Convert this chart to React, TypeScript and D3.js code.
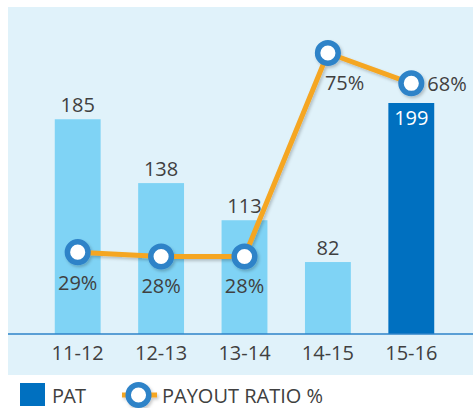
import React from "react";
import * as d3 from "d3";

const categories = ["11-12", "12-13", "13-14", "14-15", "15-16"];
const patLabels = ["185", "138", "113", "82", "199"];
// bar heights as drawn in the reference (units of PAT)
const patValues = [185, 130, 98, 62, 199];
const payout = [29, 28, 28, 75, 68];
const payoutLabels = ["29%", "28%", "28%", "75%", "68%"];

const W = 473;
const H = 408;
const FONT = "'Open Sans', sans-serif";
const TEXT = "#404040";

export default function App() {
  const x = d3.scaleBand<string>().domain(categories).range([36, 453]).paddingInner(0.45).paddingOuter(0.225);
  const yBar = d3.scaleLinear().domain([0, 199]).range([334, 103]);
  const yLine = d3.scaleLinear().domain([28, 75]).range([256.5, 53]);
  const cx = (c: string) => (x(c) as number) + x.bandwidth() / 2;
  const lineGen = d3
    .line<number>()
    .x((_, i) => cx(categories[i]))
    .y((d) => yLine(d));

  const pctOffsets = [
    { dx: 0, dy: 38, anchor: "middle" },
    { dx: 0, dy: 36, anchor: "middle" },
    { dx: 0, dy: 36, anchor: "middle" },
    { dx: -3, dy: 37, anchor: "start" },
    { dx: 16, dy: 8, anchor: "start" },
  ];

  return (
    <svg width={W} height={H} style={{ position: "absolute", left: 0, top: 0 }}>
      <defs>
        <filter id="sh" x="-20%" y="-20%" width="140%" height="140%">
          <feDropShadow dx="1.5" dy="2" stdDeviation="1.5" floodColor="#000" floodOpacity="0.22" />
        </filter>
      </defs>
      <rect x={8} y={7} width={W - 8} height={368} fill="#E0F2FA" />
      {categories.map((c, i) => (
        <rect
          key={c}
          x={x(c)}
          y={yBar(patValues[i])}
          width={x.bandwidth()}
          height={334 - yBar(patValues[i])}
          fill={i === 4 ? "#0070C0" : "#7FD3F5"}
        />
      ))}
      <line x1={8} x2={W} y1={334} y2={334} stroke="#2E83C8" strokeWidth={1.5} />
      {categories.map((c, i) => (
        <text
          key={"l" + c}
          x={cx(c)}
          y={i === 4 ? yBar(patValues[i]) + 22 : yBar(patValues[i]) - 7}
          textAnchor="middle"
          fontFamily={FONT}
          fontSize={20}
          fill={i === 4 ? "#FFFFFF" : TEXT}
        >
          {patLabels[i]}
        </text>
      ))}
      {categories.map((c) => (
        <text key={"x" + c} x={cx(c)} y={360} textAnchor="middle" fontFamily={FONT} fontSize={20} fill={TEXT}>
          {c}
        </text>
      ))}
      <g filter="url(#sh)">
        <path d={lineGen(payout) || ""} fill="none" stroke="#F5A623" strokeWidth={5} strokeLinejoin="round" />
        {categories.map((c, i) => (
          <circle key={"c" + c} cx={cx(c)} cy={yLine(payout[i])} r={10.3} fill="#FFFFFF" stroke="#2E83C8" strokeWidth={5.5} />
        ))}
      </g>
      {categories.map((c, i) => (
        <text
          key={"p" + c}
          x={cx(c) + pctOffsets[i].dx}
          y={yLine(payout[i]) + pctOffsets[i].dy}
          textAnchor={pctOffsets[i].anchor as any}
          fontFamily={FONT}
          fontSize={20}
          fill={TEXT}
        >
          {payoutLabels[i]}
        </text>
      ))}
      {/* legend */}
      <rect x={20} y={383} width={25} height={23} fill="#0070C0" />
      <text x={52} y={402.5} fontFamily={FONT} fontSize={20} fill={TEXT} letterSpacing={-0.8}>
        PAT
      </text>
      <g filter="url(#sh)">
        <line x1={122} x2={157} y1={395} y2={395} stroke="#F5A623" strokeWidth={5} />
        <circle cx={138.5} cy={395} r={10.3} fill="#FFFFFF" stroke="#2E83C8" strokeWidth={5.5} />
      </g>
      <text x={162} y={402.5} fontFamily={FONT} fontSize={20} fill={TEXT} letterSpacing={0}>
        PAYOUT RATIO %
      </text>
    </svg>
  );
}
